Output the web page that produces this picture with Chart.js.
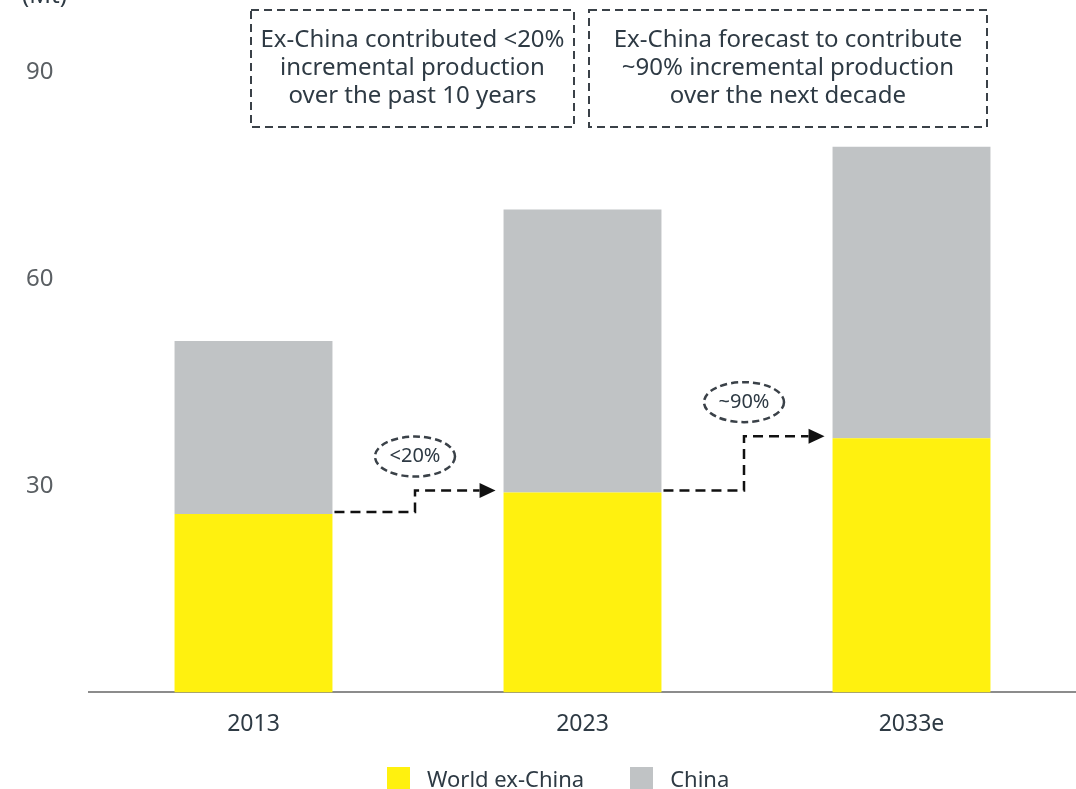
<!DOCTYPE html>
<html>
<head>
<meta charset="utf-8">
<script src="https://cdn.jsdelivr.net/npm/chart.js@4.4.1/dist/chart.umd.min.js"></script>
<style>
  body { margin: 0; background: #fff; }
  #wrap { position: relative; width: 1076px; height: 789px; overflow: hidden; }
  #legend { position: absolute; left: 387px; top: 763px; display: flex; align-items: center;
            font-family: 'Noto Sans', sans-serif; font-size: 22px; color: #2e3a44; }
  #legend .item { display: flex; align-items: center; margin-right: 46px; }
  #legend .sw { width: 23px; height: 23px; margin-right: 17px; }
</style>
</head>
<body>
<div id="wrap">
  <canvas id="prodChart" width="1076" height="789"></canvas>
  <div id="legend"></div>
</div>
<script>
const categories = ['2013', '2023', '2033e'];
const worldExChina = [25.9, 29.0, 36.9];
const china = [25.1, 41.1, 42.3];
const yTicks = [30, 60, 90];
const stepLabels = ['<20%', '~90%'];
const boxTexts = [
    ['Ex-China contributed <20%', 'incremental production', 'over the past 10 years'],
    ['Ex-China forecast to contribute', '~90% incremental production', 'over the next decade']
];

const YELLOW = '#fff10f';
const GREY = '#c0c3c5';
const DARK = '#2e3a44';

// legend (html, so spacing is easy)
const legendEl = document.getElementById('legend');
[['World ex-China', YELLOW], ['China', GREY]].forEach(([name, col]) => {
    const it = document.createElement('div');
    it.className = 'item';
    it.innerHTML = `<span class="sw" style="background:${col}"></span><span>${name}</span>`;
    legendEl.appendChild(it);
});

const annotations = {
    id: 'annotations',
    afterDatasetsDraw(chart) {
        const ctx = chart.ctx;
        const y = chart.scales.y;
        const bars = chart.getDatasetMeta(0).data;
        ctx.save();

        // unit label
        ctx.fillStyle = DARK;
        ctx.font = '24px "Noto Sans", sans-serif';
        ctx.textAlign = 'left';
        ctx.textBaseline = 'alphabetic';
        ctx.fillText('(Mt)', 22, 3);

        // step arrows between yellow tops
        for (let i = 0; i < bars.length - 1; i++) {
            const x0 = bars[i].x + bars[i].width / 2 + 2;
            const x1 = bars[i + 1].x - bars[i + 1].width / 2 - 8;
            const y0 = y.getPixelForValue(worldExChina[i]) - 2;
            const y1 = y.getPixelForValue(worldExChina[i + 1]) - 2;
            const mx = (x0 + x1) / 2;
            ctx.strokeStyle = '#111';
            ctx.lineWidth = 2.5;
            ctx.setLineDash([10, 6]);
            ctx.beginPath();
            ctx.moveTo(x0, y0);
            ctx.lineTo(mx, y0);
            ctx.lineTo(mx, y1);
            ctx.lineTo(x1 - 16, y1);
            ctx.stroke();
            ctx.setLineDash([]);
            ctx.fillStyle = '#111';
            ctx.beginPath();
            ctx.moveTo(x1, y1);
            ctx.lineTo(x1 - 16, y1 - 7.5);
            ctx.lineTo(x1 - 16, y1 + 7.5);
            ctx.closePath();
            ctx.fill();

            // ellipse label
            const cy = y1 - 34;
            ctx.strokeStyle = '#3a4148';
            ctx.lineWidth = 2.5;
            ctx.setLineDash([7, 4]);
            ctx.beginPath();
            ctx.ellipse(mx, cy, 40, 20, 0, 0, Math.PI * 2);
            ctx.stroke();
            ctx.setLineDash([]);
            ctx.fillStyle = DARK;
            ctx.font = '20px "Noto Sans", sans-serif';
            ctx.textAlign = 'center';
            ctx.textBaseline = 'middle';
            ctx.fillText(stepLabels[i], mx, cy);
        }

        // dashed text boxes at the top
        const boxes = [[251, 574], [589, 987]];
        boxes.forEach(([l, r], k) => {
            ctx.strokeStyle = '#3a4148';
            ctx.lineWidth = 2;
            ctx.setLineDash([8, 5]);
            ctx.strokeRect(l, 10, r - l, 117);
            ctx.setLineDash([]);
            ctx.fillStyle = DARK;
            ctx.font = '24px "Noto Sans", sans-serif';
            ctx.textAlign = 'center';
            ctx.textBaseline = 'middle';
            boxTexts[k].forEach((line, j) => ctx.fillText(line, (l + r) / 2, 40 + j * 28));
        });
        ctx.restore();
    }
};

new Chart(document.getElementById('prodChart'), {
    type: 'bar',
    data: {
        labels: categories,
        datasets: [
            { label: 'World ex-China', data: worldExChina, backgroundColor: YELLOW },
            { label: 'China', data: china, backgroundColor: GREY }
        ]
    },
    options: {
        responsive: false,
        animation: false,
        layout: { padding: { top: 1, bottom: 41, right: 0, left: 26 } },
        plugins: { legend: { display: false }, tooltip: { enabled: false } },
        datasets: { bar: { categoryPercentage: 1, barPercentage: 0.48 } },
        scales: {
            x: {
                stacked: true,
                grid: { display: false },
                border: { color: '#8c8c8c', width: 2 },
                ticks: { color: DARK, padding: 10, font: { family: 'Noto Sans', size: 23 } }
            },
            y: {
                stacked: true,
                min: 0,
                max: 98.4,
                grid: { display: false },
                border: { display: false },
                afterBuildTicks: axis => { axis.ticks = yTicks.map(v => ({ value: v })); },
                afterFit: axis => { axis.width = 63; },
                ticks: { color: '#5a5f63', padding: 0, crossAlign: 'far', font: { family: 'Noto Sans', size: 24 } }
            }
        }
    },
    plugins: [annotations]
});
</script>
</body>
</html>
